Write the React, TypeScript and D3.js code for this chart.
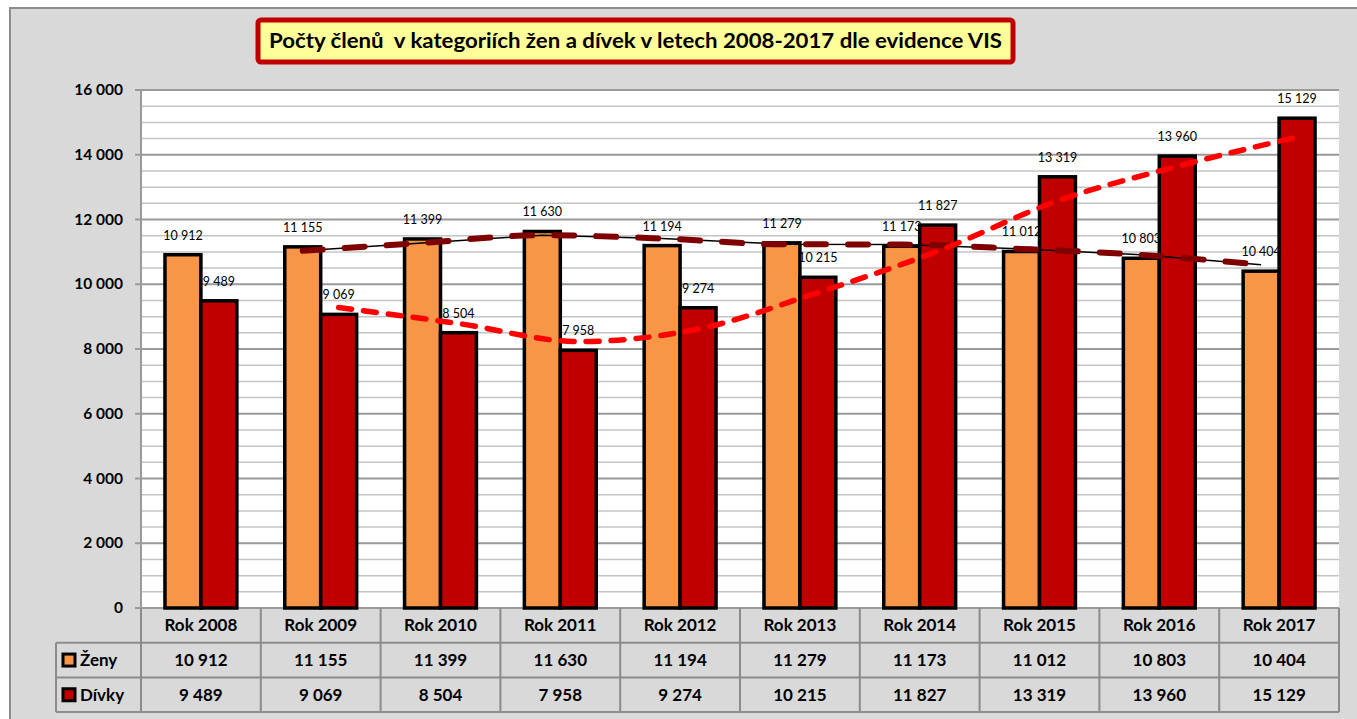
import * as d3 from 'd3';

const YEARS = ['Rok 2008', 'Rok 2009', 'Rok 2010', 'Rok 2011', 'Rok 2012', 'Rok 2013', 'Rok 2014', 'Rok 2015', 'Rok 2016', 'Rok 2017'];
const ZENY = [10912, 11155, 11399, 11630, 11194, 11279, 11173, 11012, 10803, 10404];
const DIVKY = [9489, 9069, 8504, 7958, 9274, 10215, 11827, 13319, 13960, 15129];
const SERIES_NAMES = ['Ženy', 'Dívky'];
const Y_TICKS = [0, 2000, 4000, 6000, 8000, 10000, 12000, 14000, 16000];
const TITLE = 'Počty členů  v kategoriích žen a dívek v letech 2008-2017 dle evidence VIS';

const COLORS = ['#F79646', '#C00000'];
const FONT = 'Lato, "Open Sans", sans-serif';

const W = 1357;
const H = 719;
const plot = { left: 141, right: 1339, top: 90, bottom: 608 };
const rowH = 34.7;

// space-separated thousands, like the source
const fmt = (v: number) => d3.format(',')(v).replace(/,/g, ' ');

// Excel "moving average, period 2" trendline
const movingAvg = (vals: number[]) =>
  vals.slice(1).map((v, i) => ({ i: i + 1, v: (v + vals[i]) / 2 }));

export default function App() {
  const x = d3.scaleBand<string>().domain(YEARS).range([plot.left, plot.right]);
  const bw = x.bandwidth();
  const inner = d3
    .scaleBand<number>()
    .domain([0, 1])
    .range([bw * 0.2, bw * 0.8]);
  const y = d3.scaleLinear().domain([0, 16000]).range([plot.bottom, plot.top]);
  const minor = d3.range(500, 16001, 500).filter((v) => v % 2000 !== 0);

  const series = [ZENY, DIVKY];
  const center = (i: number, s: number) => x(YEARS[i])! + inner(s)! + inner.bandwidth() / 2;

  const line = (s: number, curve: d3.CurveFactory) =>
    d3
      .line<{ i: number; v: number }>()
      .x((d) => center(d.i, s))
      .y((d) => y(d.v))
      .curve(curve)(movingAvg(series[s])) || '';

  const tableTop = plot.bottom;
  const rows = [tableTop, tableTop + rowH, tableTop + rowH * 2, tableTop + rowH * 3];
  const legendLeft = 56;

  return (
    <svg width={W} height={H} style={{ position: 'absolute', left: 0, top: 0 }} fontFamily={FONT}>
      <rect x={0} y={0} width={W} height={H} fill="#fff" />
      <rect x={10} y={8} width={W} height={H} fill="#d9d9d9" stroke="#8c8c8c" strokeWidth={2} />

      {/* title */}
      <rect x={258} y={20} width={755} height={42} rx={3} fill="#FFFF99" stroke="#C00000" strokeWidth={5} />
      <text x={635.5} y={48} textAnchor="middle" fontSize={20} fontWeight={700} fill="#000"
        textLength={733} lengthAdjust="spacingAndGlyphs" style={{ whiteSpace: 'pre' }}>
        {TITLE}
      </text>

      {/* plot area */}
      <rect x={plot.left} y={plot.top} width={plot.right - plot.left} height={plot.bottom - plot.top} fill="#fff" />
      {minor.map((v) => (
        <line key={'m' + v} x1={plot.left} x2={plot.right} y1={y(v)} y2={y(v)} stroke="#c4c4c4" strokeWidth={1.5} />
      ))}
      {Y_TICKS.map((v) => (
        <g key={'t' + v}>
          <line x1={plot.left - 6} x2={plot.right} y1={y(v)} y2={y(v)} stroke="#9a9a9a" strokeWidth={2} />
          <text x={123} y={y(v) + 5} textAnchor="end" fontSize={15.5} fontWeight={700} fill="#000">
            {fmt(v)}
          </text>
        </g>
      ))}
      <line x1={plot.left} x2={plot.left} y1={plot.top} y2={plot.bottom} stroke="#9a9a9a" strokeWidth={2} />

      {/* bars */}
      {series.map((vals, s) =>
        vals.map((v, i) => (
          <rect
            key={`b${s}-${i}`}
            x={x(YEARS[i])! + inner(s)!}
            y={y(v)}
            width={inner.bandwidth()}
            height={plot.bottom - y(v)}
            fill={COLORS[s]}
            stroke="#000"
            strokeWidth={3.5}
          />
        ))
      )}

      {/* trendlines */}
      <path d={line(0, d3.curveLinear)} fill="none" stroke="#000" strokeWidth={1.5} />
      <path d={line(0, d3.curveMonotoneX)} fill="none" stroke="#7F0000" strokeWidth={6}
        strokeDasharray="20 22" strokeLinecap="round" />
      <path d={line(1, d3.curveMonotoneX)} fill="none" stroke="#FF0000" strokeWidth={5.5}
        strokeDasharray="13 12" strokeLinecap="round" />

      {/* data labels */}
      {series.map((vals, s) =>
        vals.map((v, i) => (
          <text key={`l${s}-${i}`} x={center(i, s)} y={y(v) - 15} textAnchor="middle" fontSize={12.5} fill="#000">
            {fmt(v)}
          </text>
        ))
      )}

      {/* data table */}
      {rows.slice(1).map((ry) => (
        <line key={'r' + ry} x1={legendLeft} x2={plot.right} y1={ry} y2={ry} stroke="#8c8c8c" strokeWidth={2} />
      ))}
      <line x1={legendLeft} x2={legendLeft} y1={rows[1]} y2={rows[3]} stroke="#8c8c8c" strokeWidth={2} />
      {[...YEARS.map((c) => x(c)!), plot.right].map((cx) => (
        <line key={'c' + cx} x1={cx} x2={cx} y1={rows[0]} y2={rows[3]} stroke="#8c8c8c" strokeWidth={2} />
      ))}
      {YEARS.map((c) => (
        <text key={'h' + c} x={x(c)! + bw / 2} y={rows[0] + rowH / 2 + 6} textAnchor="middle" fontSize={17} fontWeight={700}>
          {c}
        </text>
      ))}
      {series.map((vals, s) => (
        <g key={'row' + s}>
          <rect x={63} y={rows[s + 1] + rowH / 2 - 6} width={12} height={12} fill={COLORS[s]} stroke="#000" strokeWidth={3} />
          <text x={80} y={rows[s + 1] + rowH / 2 + 6} fontSize={17} fontWeight={700}>
            {SERIES_NAMES[s]}
          </text>
          {vals.map((v, i) => (
            <text key={i} x={x(YEARS[i])! + bw / 2} y={rows[s + 1] + rowH / 2 + 6} textAnchor="middle" fontSize={17} fontWeight={700}>
              {fmt(v)}
            </text>
          ))}
        </g>
      ))}
    </svg>
  );
}
